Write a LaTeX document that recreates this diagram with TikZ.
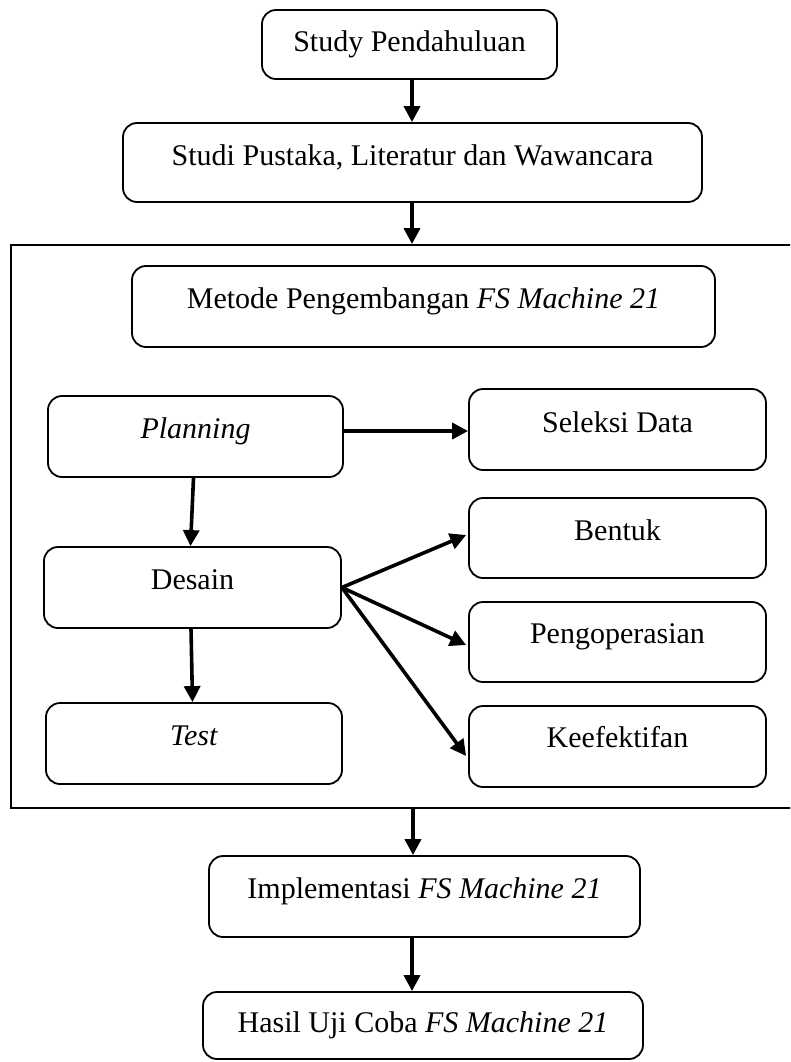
\documentclass[tikz,border=0pt]{standalone}
\usepackage{fontspec}
\setmainfont{Liberation Serif}
\usetikzlibrary{arrows.meta}
\tikzset{
  box/.style={draw, rounded corners=14pt, line width=1.8pt, inner xsep=0pt, inner ysep=0pt,
    minimum height=0pt, font=\fontsize{30}{36}\selectfont},
  arr/.style={line width=3.6pt, -{Triangle[length=16pt,width=16pt]}},
  frame/.style={draw, line width=1.8pt, inner sep=0pt}
}
\begin{document}
\begin{tikzpicture}[x=1pt,y=-1pt]
\useasboundingbox (0,0) rectangle (790,1062);
\clip (0,0) rectangle (790,1062);
\fill[white] (0,0) rectangle (790,1062);

\node[frame, minimum width=784pt, minimum height=563pt] (frame) at (403,526.5) {};

\node[box, minimum width=295pt, text height=42pt, text depth=27pt] (sp) at (409.5,44.5) {Study Pendahuluan};
\node[box, minimum width=579pt, text height=42pt, text depth=37pt] (sl) at (412.5,162.5) {Studi Pustaka, Literatur dan Wawancara};
\node[box, minimum width=583pt, text height=42pt, text depth=39pt] (met) at (423.5,306.5) {Metode Pengembangan \textit{FS Machine 21}};
\node[box, minimum width=295pt, text height=42pt, text depth=39pt] (plan) at (195.5,436.5) {\textit{Planning}};
\node[box, minimum width=297pt, text height=43pt, text depth=38pt] (sel) at (617.5,429.5) {Seleksi Data};
\node[box, minimum width=297pt, text height=42pt, text depth=38pt] (ben) at (617.5,538) {Bentuk};
\node[box, minimum width=297pt, text height=42pt, text depth=39pt] (des) at (192.5,587.5) {Desain};
\node[box, minimum width=297pt, text height=41pt, text depth=39pt] (peng) at (617.5,642) {Pengoperasian};
\node[box, minimum width=296pt, text height=42pt, text depth=39pt] (test) at (194,743.5) {\textit{Test}};
\node[box, minimum width=297pt, text height=41pt, text depth=40pt] (keef) at (617.5,746.5) {Keefektifan};
\node[box, minimum width=431pt, text height=42pt, text depth=39pt] (imp) at (424.5,896.5) {Implementasi \textit{FS Machine 21}};
\node[box, minimum width=440pt, text height=40pt, text depth=27pt] (has) at (423,1025.5) {Hasil Uji Coba \textit{FS Machine 21}};

\coordinate (axis) at (412,0);
\coordinate (axisb) at (413,0);
\coordinate (selin) at ([yshift=-1.5pt]sel.west);
\draw[arr] (axis |- sp.south) -- (axis |- sl.north);
\draw[arr] (axis |- sl.south) -- (axis |- frame.north);
\draw[arr] (plan.east |- selin) -- (selin);
\draw[arr] ([xshift=-2pt]plan.south) -- ([xshift=-2pt]des.north);
\draw[arr] ([xshift=-1.5pt]des.south) -- ([xshift=-1.5pt]test.north);
\draw[arr] (des.east) -- ([xshift=-2pt,yshift=3pt]ben.west);
\draw[arr] (des.east) -- ([xshift=-2pt,yshift=-3pt]peng.west);
\draw[arr] (des.east) -- ([xshift=-2pt,yshift=-9.5pt]keef.west);
\draw[arr] (axisb |- frame.south) -- (axisb |- imp.north);
\draw[arr] (axis |- imp.south) -- (axis |- has.north);
\end{tikzpicture}
\end{document}
